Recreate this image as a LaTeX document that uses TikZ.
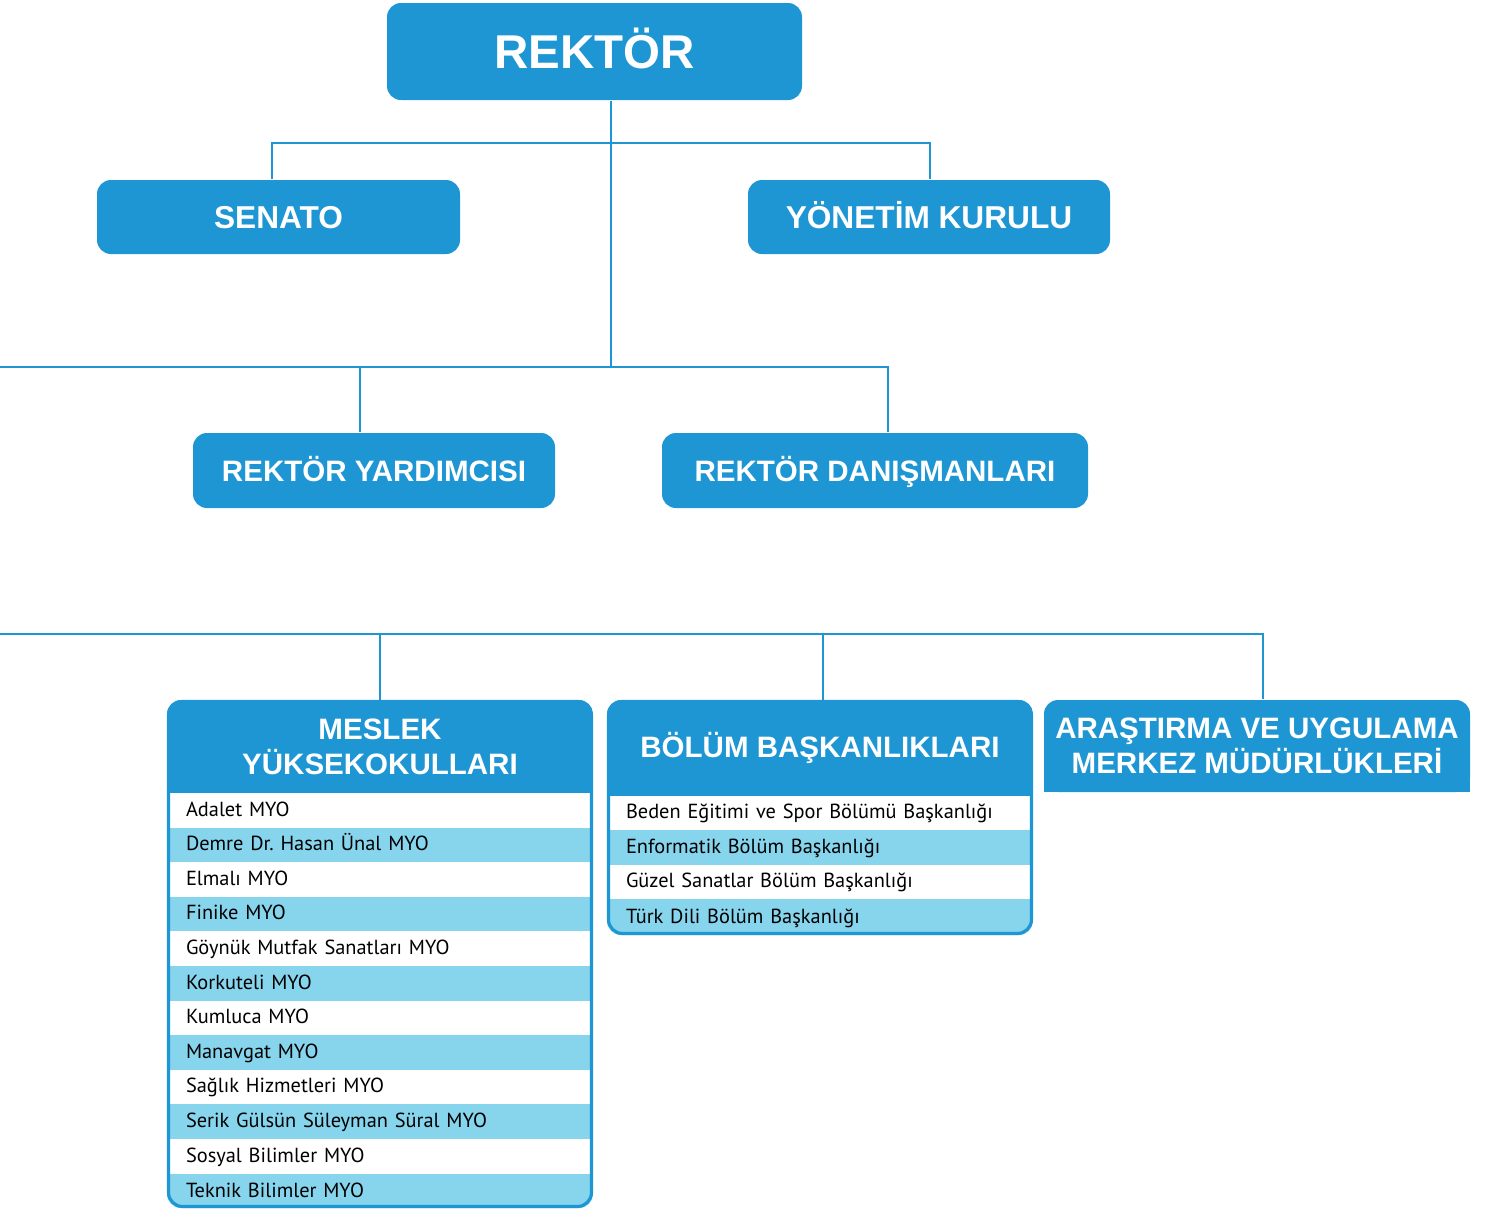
\documentclass[tikz,border=0pt]{standalone}
\usepackage{fontspec}
\setmainfont{Liberation Sans}
\newfontfamily\rowfont{PT Sans}
\usepackage{tikz}
\usetikzlibrary{positioning, calc}
\definecolor{unitblue}{RGB}{30,150,212}
\definecolor{rowblue}{RGB}{135,212,237}

\begin{document}
\begin{tikzpicture}[
  unitbox/.style={rectangle, rounded corners=0.14cm, fill=unitblue, text=white, inner sep=0pt, align=center, font=\fontsize{8.4}{9.9}\selectfont\bfseries},
  onelinebox/.style={unitbox, text height=6.0pt, text depth=0pt},
  bigbox/.style={unitbox, text height=6.45pt, text depth=0pt, font=\fontsize{9.0}{10.5}\selectfont\bfseries},
  topbox/.style={unitbox, text height=9.7pt, text depth=0pt, font=\fontsize{13.5}{16}\selectfont\bfseries},
  headbox/.style={rectangle, fill=unitblue, text=white, inner sep=0pt, outer sep=0pt, align=center, minimum width=4.26cm, font=\fontsize{8.4}{9.9}\selectfont\bfseries},
  rowA/.style={rectangle, fill=white, minimum width=4.26cm, minimum height=0.346cm, inner xsep=0.19cm, inner ysep=0pt, outer sep=0pt, text width=3.88cm, align=left, text height=1.6mm, text depth=0.45mm, font=\rowfont\fontsize{5.8}{7}\selectfont},
  rowB/.style={rowA, fill=rowblue},
  listframe/.style={draw=unitblue, line width=0.9pt, rounded corners=0.14cm, inner sep=0pt},
  link/.style={draw=unitblue, line width=0.75pt}
]
\useasboundingbox (0,0) rectangle (14.88,-12.12);

% top level
\node[topbox, minimum width=4.15cm, minimum height=0.97cm] (rektor) at (5.945,-0.515) {REKTÖR};
\node[bigbox, minimum width=3.63cm, minimum height=0.74cm] (senato) at (2.785,-2.17) {SENATO};
\node[bigbox, minimum width=3.62cm, minimum height=0.74cm] (yonetim) at (9.29,-2.17) {YÖNETİM KURULU};

\node[onelinebox, minimum width=3.62cm, minimum height=0.75cm] (yardimci) at (3.74,-4.705) {REKTÖR YARDIMCISI};
\node[onelinebox, minimum width=4.26cm, minimum height=0.75cm] (danisman) at (8.75,-4.705) {REKTÖR DANIŞMANLARI};

% meslek yuksekokullari
\begin{scope}
  \clip[rounded corners=0.14cm] (1.67,-7.00) rectangle (5.93,-12.08);
  \node[headbox, minimum height=0.93cm, anchor=north] (myohead) at (3.80,-7.00) {MESLEK\\YÜKSEKOKULLARI};
  \node[rowA, below=0pt of myohead] (myo1) {Adalet MYO};
  \node[rowB, below=0pt of myo1] (myo2) {Demre Dr.\ Hasan Ünal MYO};
  \node[rowA, below=0pt of myo2] (myo3) {Elmalı MYO};
  \node[rowB, below=0pt of myo3] (myo4) {Finike MYO};
  \node[rowA, below=0pt of myo4] (myo5) {Göynük Mutfak Sanatları MYO};
  \node[rowB, below=0pt of myo5] (myo6) {Korkuteli MYO};
  \node[rowA, below=0pt of myo6] (myo7) {Kumluca MYO};
  \node[rowB, below=0pt of myo7] (myo8) {Manavgat MYO};
  \node[rowA, below=0pt of myo8] (myo9) {Sağlık Hizmetleri MYO};
  \node[rowB, below=0pt of myo9] (myo10) {Serik Gülsün Süleyman Süral MYO};
  \node[rowA, below=0pt of myo10] (myo11) {Sosyal Bilimler MYO};
  \node[rowB, below=0pt of myo11, minimum height=0.36cm] (myo12) {Teknik Bilimler MYO};
\end{scope}
\node[listframe, minimum width=4.23cm, minimum height=5.05cm] (myo) at (3.80,-9.54) {};

% bolum baskanliklari
\begin{scope}
  \clip[rounded corners=0.14cm] (6.07,-7.00) rectangle (10.33,-9.35);
  \node[headbox, minimum height=0.955cm, anchor=north] (bolhead) at (8.20,-7.00) {BÖLÜM BAŞKANLIKLARI};
  \node[rowA, below=0pt of bolhead] (bol1) {Beden Eğitimi ve Spor Bölümü Başkanlığı};
  \node[rowB, below=0pt of bol1] (bol2) {Enformatik Bölüm Başkanlığı};
  \node[rowA, below=0pt of bol2] (bol3) {Güzel Sanatlar Bölüm Başkanlığı};
  \node[rowB, below=0pt of bol3, minimum height=0.37cm] (bol4) {Türk Dili Bölüm Başkanlığı};
\end{scope}
\node[listframe, minimum width=4.23cm, minimum height=2.32cm] (bolum) at (8.20,-8.175) {};

% arastirma merkezleri
\fill[unitblue] (10.44,-7.46) rectangle (14.70,-7.92);
\node[unitbox, minimum width=4.26cm, minimum height=0.92cm] (aum) at (12.57,-7.46) {ARAŞTIRMA VE UYGULAMA\\MERKEZ MÜDÜRLÜKLERİ};

% connectors
\coordinate (bar1) at (6.11,-1.43);
\coordinate (bar2) at (6.11,-3.67);
\coordinate (bar2west) at (0,-3.67);
\coordinate (senatotap) at (2.72,-1.43);
\coordinate (yonetimtap) at (9.30,-1.43);
\coordinate (yardtap) at (3.60,-3.67);
\coordinate (danistap) at (8.88,-3.67);
\coordinate (bar3west) at (0,-6.34);
\coordinate (myotap) at (3.80,-6.34);
\coordinate (boltap) at (8.23,-6.34);
\coordinate (aumtap) at (12.63,-6.34);

\draw[link] (rektor.south -| bar1) -- (bar2);
\draw[link] (senatotap |- senato.north) -- (senatotap) -- (yonetimtap) -- (yonetimtap |- yonetim.north);
\draw[link] (bar2west) -- (danistap) -- (danistap |- danisman.north);
\draw[link] (yardtap) -- (yardtap |- yardimci.north);

\draw[link] (bar3west) -- (aumtap) -- (aumtap |- aum.north);
\draw[link] (myotap) -- (myo.north);
\draw[link] (boltap) -- (boltap |- bolum.north);
\end{tikzpicture}
\end{document}
